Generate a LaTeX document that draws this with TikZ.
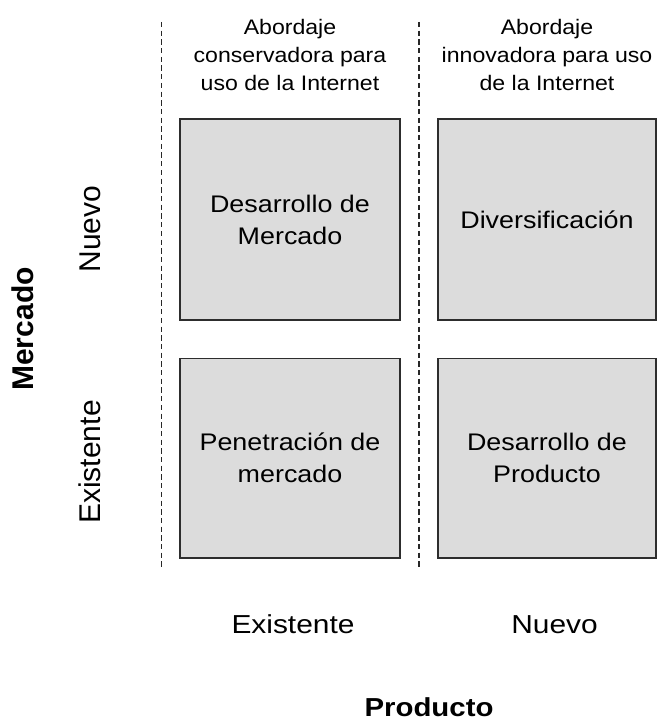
\documentclass[tikz,border=0pt]{standalone}
\usepackage{fontspec}
\setmainfont{Liberation Sans}
\usepackage{graphicx}
\definecolor{boxfill}{RGB}{220,220,220}
\definecolor{boxline}{RGB}{45,45,45}
\definecolor{dashline}{RGB}{40,40,40}
\newcommand\hs[2]{\scalebox{#1}[1]{#2}}
\begin{document}
\begin{tikzpicture}[x=1pt,y=-1pt,
  quad/.style={draw=boxline, fill=boxfill, line width=1.3pt, inner sep=0pt,
    align=center, font=\fontsize{24}{32}\selectfont},
  header/.style={inner sep=0pt, align=center, font=\fontsize{21}{28}\selectfont},
  axislab/.style={inner sep=0pt, anchor=base, font=\fontsize{26}{30}\selectfont},
  sidelab/.style={inner sep=0pt, anchor=base, rotate=90, font=\fontsize{30}{34}\selectfont},
  divider/.style={draw=dashline, line width=1.5pt, dash pattern=on 5.3pt off 3.4pt}]
\useasboundingbox (0,0) rectangle (667,722);

% dashed dividers
\coordinate (d1t) at (161.5,22);
\coordinate (d1b) at (161.5,567);
\coordinate (d2t) at (419,22);
\coordinate (d2b) at (419,567);
\draw[divider] (d1t) -- (d1b);
\draw[divider] (d2t) -- (d2b);

% headers
\node[header] (h1) at (290,55) {\hs{1.1}{Abordaje}\\\hs{1.1}{conservadora para}\\\hs{1.1}{uso de la Internet}};
\node[header] (h2) at (547,55) {\hs{1.1}{Abordaje}\\\hs{1.1}{innovadora para uso}\\\hs{1.1}{de la Internet}};

% quadrants
\node[quad, minimum width=220pt, minimum height=201pt] (tl) at (290,219.5)
  {\hs{1.12}{Desarrollo de}\\\hs{1.12}{Mercado}};
\node[quad, minimum width=218pt, minimum height=201pt] (tr) at (547,219.5)
  {\hs{1.12}{Diversificación}};
\node[quad, minimum width=220pt, minimum height=199.5pt] (bl) at (290,458.25)
  {\hs{1.12}{Penetración de}\\\hs{1.12}{mercado}};
\node[quad, minimum width=218pt, minimum height=199.5pt] (br) at (547,458.25)
  {\hs{1.12}{Desarrollo de}\\\hs{1.12}{Producto}};

% axis labels
\node[axislab] (px) at (293,633) {\hs{1.15}{Existente}};
\node[axislab] (pn) at (554.5,633) {\hs{1.15}{Nuevo}};
\node[axislab] (prod) at (429,716) {\hs{1.13}{\bfseries Producto}};

\node[sidelab] (mn) at (100,229) {Nuevo};
\node[sidelab] (mx) at (100,462) {Existente};
\node[sidelab] (merc) at (33,329) {\bfseries Mercado};
\end{tikzpicture}
\end{document}
